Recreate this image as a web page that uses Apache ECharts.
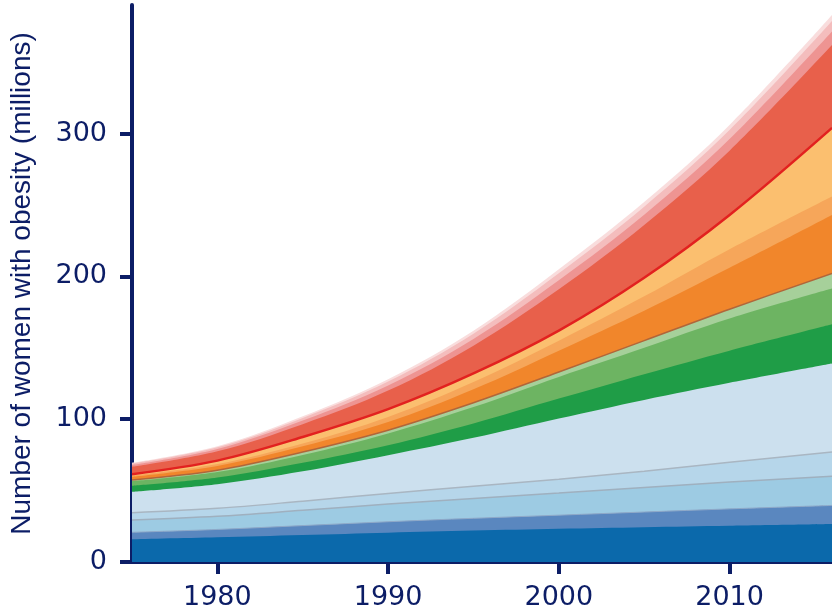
<!DOCTYPE html>
<html>
<head>
<meta charset="utf-8">
<script src="https://cdn.jsdelivr.net/npm/echarts@6/dist/echarts.min.js"></script>
<style>
  html, body { margin: 0; padding: 0; background: #ffffff; }
  #chart { width: 832px; height: 612px; }
</style>
</head>
<body>
<div id="chart"></div>
<script>
// Survey years
const years = [1975, 1980, 1985, 1990, 1995, 2000, 2005, 2010, 2016];

// Women with obesity (millions) per regional group, listed bottom to top
const blueDark    = [15.9, 17.3, 18.9, 20.5, 22.0, 23.3, 24.4, 25.4, 26.6];
const blueMid     = [4.9, 5.5, 6.6, 7.7, 8.6, 9.5, 10.6, 11.8, 13.0];
const blueLight   = [8.6, 9.2, 10.7, 12.4, 13.9, 15.5, 17.2, 18.8, 20.4];
const bluePale    = [5.1, 5.6, 6.4, 7.4, 8.5, 9.7, 11.4, 13.8, 17.0];
const blueFaint   = [14.7, 16.9, 20.9, 26.8, 34.0, 42.5, 49.9, 55.7, 62.0];
const greenDark   = [4.2, 4.7, 6.0, 7.0, 10.0, 13.9, 18.0, 22.5, 27.5];
const greenMid    = [3.2, 3.8, 5.5, 8.2, 11.5, 15.2, 18.5, 22.5, 25.0];
const greenPale   = [0.9, 1.3, 2.0, 2.3, 3.0, 3.4, 5.0, 6.5, 10.5];
const orangeDark  = [2.2, 3.0, 4.0, 5.7, 9.5, 15.0, 21.0, 29.0, 41.0];
const orangeMid   = [0.8, 1.3, 2.0, 3.6, 5.0, 7.0, 10.0, 13.0, 13.0];
const orangePale  = [1.0, 2.4, 4.5, 5.4, 6.0, 7.0, 13.0, 24.0, 48.0];
const redMain     = [5.1, 6.5, 9.0, 13.0, 19.5, 29.0, 37.0, 45.0, 58.0];
const pinkDeep    = [1.3, 1.6, 2.5, 3.6, 4.7, 6.3, 7.2, 8.1, 9.5];
const pinkLight   = [1.0, 1.2, 1.9, 2.8, 3.7, 4.9, 5.6, 6.3, 7.3];
const pinkPale    = [0.5, 0.7, 1.1, 1.6, 2.1, 2.8, 3.2, 3.6, 4.2];

// Axis ticks
const xTicks = [1980, 1990, 2000, 2010];
const yTicks = [0, 100, 200, 300];

const layers = [
  { v: blueDark,   c: '#0b69ab' },
  { v: blueMid,    c: '#5a87bf', line: '#8fa9c8', w: 1 },
  { v: blueLight,  c: '#9dcbe3', line: '#9fb0bf', w: 1.5 },
  { v: bluePale,   c: '#b6d6ea', line: '#a9b6c2', w: 1.5 },
  { v: blueFaint,  c: '#cce0ee' },
  { v: greenDark,  c: '#1f9d47' },
  { v: greenMid,   c: '#6db462' },
  { v: greenPale,  c: '#a6d09a', line: '#b0663a', w: 1.5 },
  { v: orangeDark, c: '#f1862b' },
  { v: orangeMid,  c: '#f6a65a' },
  { v: orangePale, c: '#fbbf6f', line: '#e2211f', w: 2.5 },
  { v: redMain,    c: '#e8604b' },
  { v: pinkDeep,   c: '#ee9492' },
  { v: pinkLight,  c: '#f4bdbd' },
  { v: pinkPale,   c: '#f9dddd' }
];

// Running totals: each band is filled from the axis up to its cumulative top,
// upper bands are painted first so the lower ones sit in front of them.
const running = years.map(() => 0);
const series = layers.map((l) => {
  const top = years.map((y, k) => (running[k] += l.v[k]));
  return {
    type: 'line',
    smooth: 0.35,
    symbol: 'none',
    silent: true,
    data: years.map((y, k) => [y, +top[k].toFixed(2)]),
    lineStyle: { width: l.line ? l.w : 0, color: l.line || l.c },
    areaStyle: { color: l.c, opacity: 1, origin: 'start' },
    emphasis: { disabled: true }
  };
}).reverse();

const navy = '#0c1d66';
const tickFont = { color: navy, fontFamily: 'DejaVu Sans', fontSize: 27 };

const chart = echarts.init(document.getElementById('chart'), null, { renderer: 'canvas' });
chart.setOption({
  animation: false,
  backgroundColor: '#ffffff',
  grid: { left: 129, right: -5, top: 5, bottom: 50 },
  xAxis: {
    type: 'value',
    min: 1975,
    max: 2016,
    axisLine: { show: true, lineStyle: { color: navy, width: 4 } },
    axisTick: { show: true, length: 12, lineStyle: { color: navy, width: 4 }, customValues: xTicks },
    axisLabel: Object.assign({ customValues: xTicks, margin: 22, formatter: (v) => String(v) }, tickFont),
    splitLine: { show: false }
  },
  yAxis: {
    type: 'value',
    min: 0,
    max: 390,
    name: 'Number of women with obesity (millions)',
    nameLocation: 'middle',
    nameGap: 96,
    nameRotate: 90,
    nameTextStyle: { color: navy, fontFamily: 'Liberation Sans', fontSize: 28 },
    axisLine: { show: true, lineStyle: { color: navy, width: 4 } },
    axisTick: { show: true, length: 12, lineStyle: { color: navy, width: 4 }, customValues: yTicks },
    axisLabel: Object.assign({ customValues: yTicks, margin: 25 }, tickFont),
    splitLine: { show: false }
  },
  series: series
});
</script>
</body>
</html>
